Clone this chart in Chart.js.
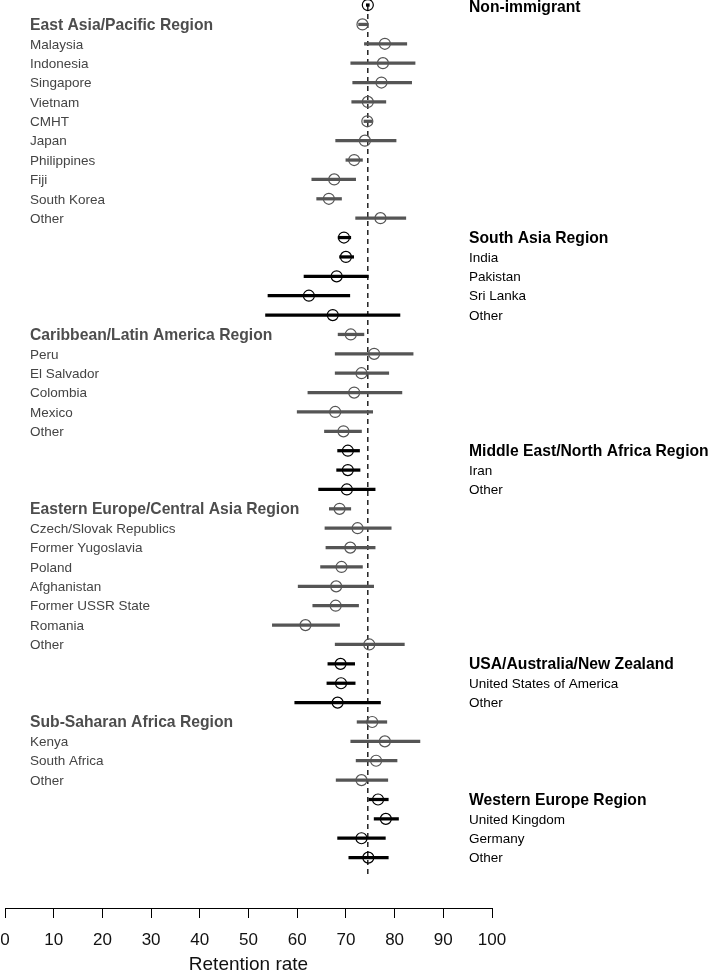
<!DOCTYPE html>
<html>
<head>
<meta charset="utf-8">
<script src="https://cdn.jsdelivr.net/npm/chart.js@4"></script>
<style>
  html, body { margin: 0; padding: 0; background: #fff; }
  #wrap { width: 709px; height: 974px; }
</style>
</head>
<body>
<div id="wrap"><canvas id="retentionChart"></canvas></div>
<script>
const rowLabels = [
    'Non-immigrant',
    'East Asia/Pacific Region', 'Malaysia', 'Indonesia', 'Singapore', 'Vietnam', 'CMHT', 'Japan', 'Philippines', 'Fiji', 'South Korea', 'Other',
    'South Asia Region', 'India', 'Pakistan', 'Sri Lanka', 'Other',
    'Caribbean/Latin America Region', 'Peru', 'El Salvador', 'Colombia', 'Mexico', 'Other',
    'Middle East/North Africa Region', 'Iran', 'Other',
    'Eastern Europe/Central Asia Region', 'Czech/Slovak Republics', 'Former Yugoslavia', 'Poland', 'Afghanistan', 'Former USSR State', 'Romania', 'Other',
    'USA/Australia/New Zealand', 'United States of America', 'Other',
    'Sub-Saharan Africa Region', 'Kenya', 'South Africa', 'Other',
    'Western Europe Region', 'United Kingdom', 'Germany', 'Other'
];
// first row of each group (the group heading)
const groupStarts = [0, 1, 12, 17, 23, 26, 34, 37, 41];

const estimates = [74.5, 73.4, 78.0, 77.6, 77.3, 74.5, 74.4, 73.9, 71.7, 67.6, 66.5, 77.1,
    69.6, 70.0, 68.1, 62.4, 67.3, 71.0, 75.8, 73.2, 71.7, 67.8, 69.5, 70.4, 70.4, 70.2,
    68.7, 72.4, 70.9, 69.1, 68.0, 67.9, 61.7, 74.8, 68.9, 69.0, 68.3, 75.4, 78.0, 76.2, 73.2,
    76.6, 78.2, 73.2, 74.6];
const lowerCI = [74.2, 72.6, 73.8, 71.0, 71.4, 71.2, 73.7, 67.9, 70.0, 63.0, 64.0, 72.0,
    68.4, 68.7, 61.4, 54.0, 53.5, 68.4, 67.8, 67.8, 62.2, 60.0, 65.6, 68.3, 68.1, 64.4,
    66.6, 65.7, 65.9, 64.8, 60.2, 63.2, 54.9, 67.8, 66.3, 66.1, 59.5, 72.3, 71.0, 72.1, 68.0,
    74.7, 75.8, 68.3, 70.6];
const upperCI = [74.8, 74.4, 82.5, 84.2, 83.5, 78.2, 75.4, 80.3, 73.4, 72.0, 69.1, 82.3,
    71.0, 71.6, 74.6, 70.8, 81.1, 73.7, 83.8, 78.8, 81.5, 75.5, 73.2, 72.8, 72.9, 76.0,
    71.0, 79.3, 76.0, 73.4, 75.7, 72.6, 68.7, 82.0, 71.8, 71.9, 77.1, 78.4, 85.2, 80.5, 78.6,
    78.7, 80.8, 78.1, 78.7];
const referenceRate = 74.5;
const xTicks = [0, 10, 20, 30, 40, 50, 60, 70, 80, 90, 100];

const GREY = '#555555';
const BLACK = '#000000';
const FONT = '"Liberation Sans", Arial, sans-serif';

// group index per row; odd groups are labelled on the left in grey
const groupOf = rowLabels.map((_, i) => {
    let g = 0;
    groupStarts.forEach((s, k) => { if (i >= s) g = k; });
    return g;
});
const isLeft = i => groupOf[i] % 2 === 1;
const rowColor = i => isLeft(i) ? GREY : BLACK;

const labelPlugin = {
    id: 'rowLabels',
    beforeDatasetsDraw(chart) {
        const { ctx, scales } = chart;
        const x = scales.x.getPixelForValue(referenceRate);
        ctx.save();
        ctx.strokeStyle = BLACK;
        ctx.lineWidth = 1.3;
        ctx.setLineDash([5, 4]);
        ctx.beginPath();
        ctx.moveTo(x, scales.y.getPixelForValue(0));
        ctx.lineTo(x, scales.y.getPixelForValue(rowLabels.length));
        ctx.stroke();
        ctx.restore();
    },
    afterDraw(chart) {
        const { ctx, chartArea, scales } = chart;
        ctx.save();
        ctx.textBaseline = 'middle';
        ctx.textAlign = 'left';
        rowLabels.forEach((label, i) => {
            // keep the top heading inside the canvas
            const y = Math.max(scales.y.getPixelForValue(i) + 1, 8);
            const header = groupStarts.includes(i);
            ctx.font = (header ? 'bold 15.7px ' : '13.5px ') + FONT;
            if (isLeft(i)) {
                ctx.fillStyle = header ? '#4d4d4d' : '#444444';
                ctx.fillText(label, chartArea.left + 25, y);
            } else {
                ctx.fillStyle = BLACK;
                ctx.fillText(label, chartArea.right - 23, y);
            }
        });
        ctx.restore();
    }
};

const ctx = document.getElementById('retentionChart').getContext('2d');
new Chart(ctx, {
    type: 'bar',
    data: {
        datasets: [
            {
                type: 'line',
                data: estimates.map((v, i) => ({ x: v, y: i })),
                showLine: false,
                pointStyle: 'circle',
                pointRadius: 5.5,
                pointBorderWidth: 1.2,
                pointBackgroundColor: 'rgba(0,0,0,0)',
                pointBorderColor: estimates.map((_, i) => rowColor(i)),
                clip: false,
                order: 0
            },
            {
                type: 'bar',
                data: estimates.map((_, i) => ({ x: [lowerCI[i], upperCI[i]], y: i })),
                backgroundColor: estimates.map((_, i) => rowColor(i)),
                barThickness: 2.6,
                borderWidth: 0,
                clip: false,
                order: 1
            }
        ]
    },
    options: {
        indexAxis: 'y',
        responsive: true,
        maintainAspectRatio: false,
        animation: false,
        layout: { autoPadding: false, padding: { left: 0, right: 217, top: 0, bottom: 0 } },
        plugins: {
            legend: { display: false },
            tooltip: { enabled: false }
        },
        scales: {
            x: {
                type: 'linear',
                min: 0,
                max: 100,
                afterBuildTicks: axis => { axis.ticks = xTicks.map(v => ({ value: v })); },
                afterFit: axis => {
                    axis.height = 66;
                    axis.paddingLeft = 5;
                    axis.paddingRight = 5;
                },
                grid: { drawOnChartArea: false, drawTicks: true, tickLength: 10, color: BLACK, lineWidth: 1 },
                border: { display: true, color: BLACK, width: 1 },
                ticks: {
                    color: '#111',
                    padding: 14,
                    maxRotation: 0,
                    font: { family: FONT, size: 17, lineHeight: 1 }
                },
                title: {
                    display: true,
                    text: 'Retention rate',
                    color: '#111',
                    padding: { top: 5, bottom: 0 },
                    font: { family: FONT, size: 19, lineHeight: 1 }
                }
            },
            y: {
                type: 'linear',
                reverse: true,
                offset: false,
                grace: 0,
                min: -0.26,
                max: 46.6,
                display: false
            }
        }
    },
    plugins: [labelPlugin]
});
</script>
</body>
</html>
